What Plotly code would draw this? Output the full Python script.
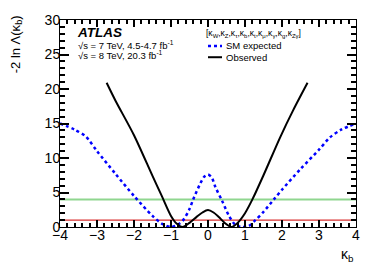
import plotly.graph_objects as go

# ---- data ----
kb_exp = [-4.0, -3.6, -3.3, -3.0, -2.5, -2.0, -1.5, -1.25, -1.0, -0.8, -0.67, -0.5, -0.4, -0.2, -0.1,
          0.0, 0.1, 0.2, 0.38, 0.56, 0.74, 0.9, 1.1, 1.28, 1.5, 1.78, 2.0, 2.5, 3.0, 3.3, 3.6, 4.0]
nll_exp = [15.0, 14.1, 13.1, 11.0, 7.7, 4.5, 1.6, 0.5, 0.0, 0.4, 1.0, 2.6, 4.0, 6.4, 7.3,
           7.6, 7.2, 5.8, 3.8, 1.7, 0.3, 0.0, 0.15, 1.0, 2.2, 4.0, 5.4, 8.4, 11.2, 13.0, 14.1, 15.0]

kb_obs = [-2.74, -2.5, -2.0, -1.5, -1.25, -1.0, -0.85, -0.69, -0.5, -0.3, -0.15, 0.0,
          0.15, 0.3, 0.45, 0.64, 0.8, 1.0, 1.2, 1.5, 1.95, 2.3, 2.69]
nll_obs = [20.9, 18.3, 13.3, 7.4, 4.5, 1.6, 0.5, 0.0, 0.6, 1.5, 2.1, 2.45,
           2.1, 1.4, 0.6, 0.0, 0.6, 2.0, 4.0, 7.5, 13.0, 16.9, 20.9]

x_range = [-4, 4]
y_range = [0, 30]
cl_levels = [1, 4]            # 68% and 95% CL lines
cl_colors = ["#d93030", "#8fd68f"]
cl_widths = [1.2, 2]

FONT = "Liberation Sans, Arial, Helvetica, sans-serif"
PW, PH = 296.0, 213.0

fig = go.Figure()

for lvl, col, w in zip(cl_levels, cl_colors, cl_widths):
    fig.add_trace(go.Scatter(x=x_range, y=[lvl, lvl], mode="lines",
                             line=dict(color=col, width=w), showlegend=False, hoverinfo="skip"))

fig.add_trace(go.Scatter(x=kb_exp, y=nll_exp, mode="lines", name="SM expected",
                         line=dict(color="#0000ff", width=2.5, dash="dot", shape="spline", smoothing=0.8),
                         showlegend=False))
fig.add_trace(go.Scatter(x=kb_obs, y=nll_obs, mode="lines", name="Observed",
                         line=dict(color="black", width=2, shape="spline", smoothing=0.8),
                         showlegend=False))

fig.update_xaxes(
    range=x_range, tickmode="linear", tick0=-4, dtick=1,
    showgrid=False, zeroline=False, showline=True, linecolor="black", linewidth=1,
    mirror="allticks", ticks="inside", ticklen=7, tickcolor="black", tickwidth=1.5,
    ticklabelstandoff=-5,
    tickfont=dict(family=FONT, size=14, color="black"),
    minor=dict(dtick=0.2, ticklen=4, ticks="inside", tickcolor="black", tickwidth=1.5, showgrid=False),
)
fig.update_yaxes(
    range=y_range, tickmode="linear", tick0=0, dtick=5,
    showgrid=False, zeroline=False, showline=True, linecolor="black", linewidth=1,
    mirror="allticks", ticks="inside", ticklen=9, tickcolor="black", tickwidth=1.5,
    ticklabelstandoff=-4,
    tickfont=dict(family=FONT, size=14, color="black"),
    minor=dict(dtick=1, ticklen=5, ticks="inside", tickcolor="black", tickwidth=1.5, showgrid=False),
)

def px2paper_x(px):
    return (px - 60) / PW

def px2paper_y(py):
    return (227 - py) / PH

# legend line samples
shapes = [
    dict(type="line", xref="paper", yref="paper", x0=px2paper_x(208), x1=px2paper_x(222),
         y0=px2paper_y(40.7), y1=px2paper_y(40.7), line=dict(color="#0000ff", width=2.5, dash="dot")),
    dict(type="line", xref="paper", yref="paper", x0=px2paper_x(208), x1=px2paper_x(222),
         y0=px2paper_y(52.3), y1=px2paper_y(52.3), line=dict(color="black", width=2)),
]

annotations = [
    dict(text="-2 ln Λ(κ<sub>b</sub>)", x=px2paper_x(16), y=px2paper_y(39), textangle=-90,
         xanchor="center", yanchor="middle", font=dict(family=FONT, size=13, color="black")),
    dict(text="κ<sub>b</sub>", x=px2paper_x(356), y=px2paper_y(256), xanchor="right", yanchor="middle",
         font=dict(family=FONT, size=14, color="black")),
    dict(text="<b><i>ATLAS</i></b>", x=px2paper_x(75), y=px2paper_y(26.5), xanchor="left", yanchor="middle",
         font=dict(family=FONT, size=13.5, color="black")),
    dict(text="√s = 7 TeV, 4.5-4.7 fb<sup>-1</sup>", x=px2paper_x(76), y=px2paper_y(39.5),
         xanchor="left", yanchor="middle", font=dict(family=FONT, size=9.5, color="black")),
    dict(text="√s = 8 TeV, 20.3 fb<sup>-1</sup>", x=px2paper_x(76), y=px2paper_y(50.5),
         xanchor="left", yanchor="middle", font=dict(family=FONT, size=9.5, color="black")),
    dict(text="[κ<sub>W</sub>,κ<sub>Z</sub>,κ<sub>τ</sub>,κ<sub>b</sub>,κ<sub>t</sub>,κ<sub>μ</sub>,"
              "κ<sub>γ</sub>,κ<sub>g</sub>,κ<sub>Zγ</sub>]",
         x=px2paper_x(204), y=px2paper_y(28), xanchor="left", yanchor="middle",
         font=dict(family=FONT, size=8.5, color="black")),
    dict(text="SM expected", x=px2paper_x(224), y=px2paper_y(40.7), xanchor="left", yanchor="middle",
         font=dict(family=FONT, size=9.5, color="black")),
    dict(text="Observed", x=px2paper_x(224), y=px2paper_y(52.3), xanchor="left", yanchor="middle",
         font=dict(family=FONT, size=9.5, color="black")),
]
for a in annotations:
    a.update(xref="paper", yref="paper", showarrow=False)

fig.update_layout(
    width=374, height=271,
    margin=dict(l=60, r=18, t=14, b=44),
    paper_bgcolor="white", plot_bgcolor="white",
    annotations=annotations, shapes=shapes,
    showlegend=False,
)

fig.write_html("out.html", config={"displayModeBar": False},
               post_script="document.body.style.margin='0px';")
